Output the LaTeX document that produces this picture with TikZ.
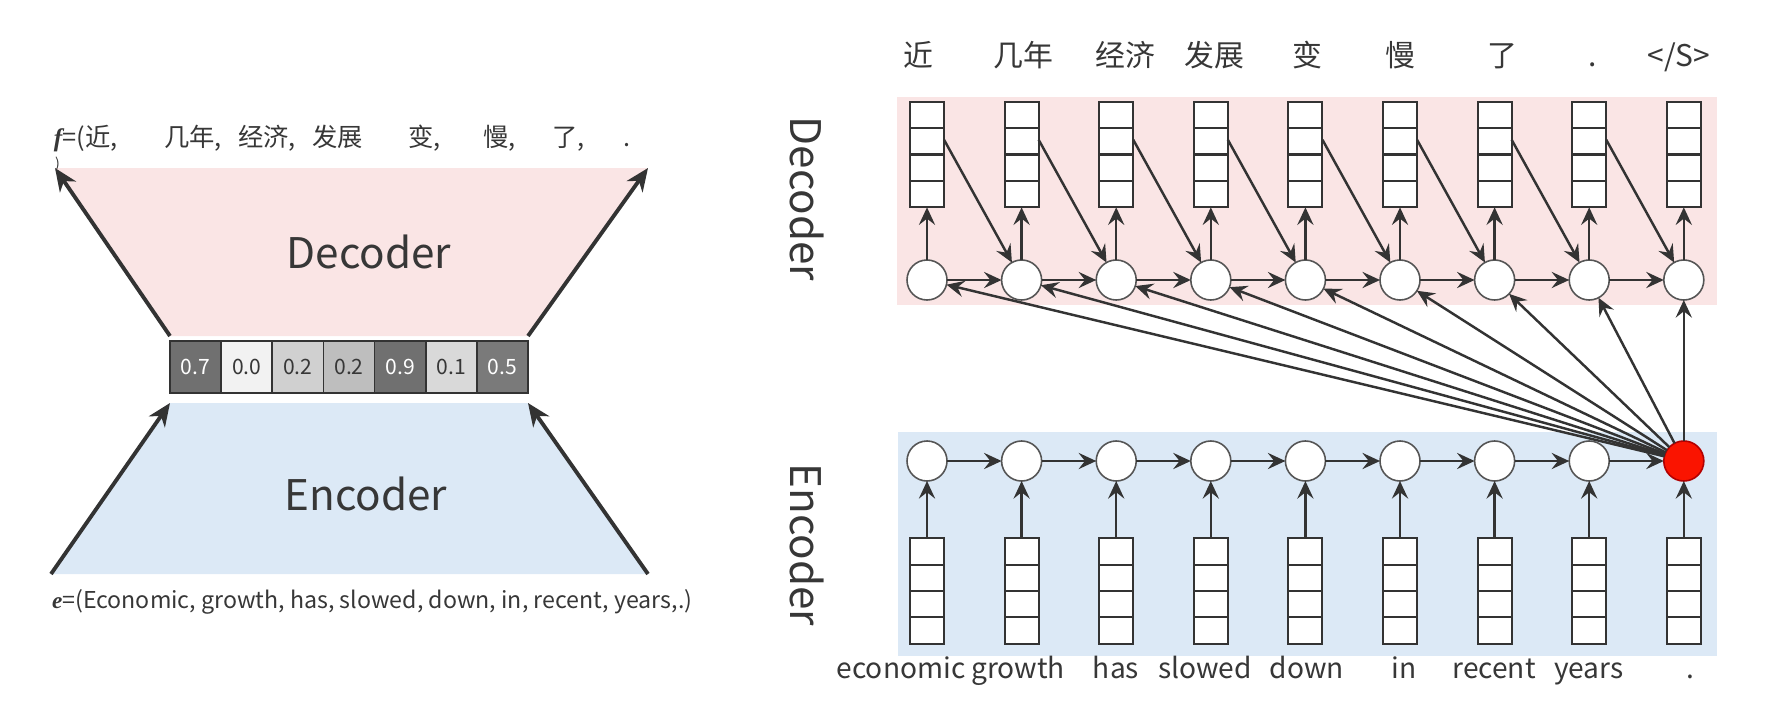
\documentclass[tikz,border=0pt]{standalone}
\usepackage{fontspec}
\setmainfont{Noto Sans CJK SC}
\newfontfamily\vecfont{Liberation Serif}
\usetikzlibrary{arrows.meta, positioning, calc}

\definecolor{decpink}{RGB}{250,229,229}
\definecolor{encblue}{RGB}{220,233,246}
\definecolor{linegray}{RGB}{51,51,51}
\definecolor{rimgray}{RGB}{85,85,85}
\definecolor{hotred}{RGB}{250,20,0}
\definecolor{gdark}{RGB}{112,112,112}
\definecolor{gdarkb}{RGB}{122,122,122}
\definecolor{gpale}{RGB}{242,242,242}
\definecolor{glight}{RGB}{208,208,208}
\definecolor{gmid}{RGB}{190,190,190}
\definecolor{gsoft}{RGB}{217,217,217}
\definecolor{txtgray}{RGB}{55,55,55}

\begin{document}
\begin{tikzpicture}[x=0.01cm, y=-0.01cm,
    every node/.style={inner sep=0pt, outer sep=0pt, text=txtgray},
    arr/.style={-{Stealth[length=5pt, width=4.6pt, inset=1.8pt]}, line width=0.7pt, draw=linegray},
    bigarr/.style={-{Stealth[length=6.5pt, width=5.5pt, inset=2pt]}, line width=1.1pt, draw=linegray},
    state/.style={circle, draw=rimgray, fill=white, line width=0.45pt, minimum size=0.4cm},
    stack/.style={rectangle, draw=linegray, fill=white, line width=0.6pt,
        minimum width=0.34cm, minimum height=1.056cm,
        path picture={
            \foreach \k in {1,2,3}
                \draw[linegray, line width=0.6pt]
                    ($(path picture bounding box.north west)!\k/4!(path picture bounding box.south west)$) --
                    ($(path picture bounding box.north east)!\k/4!(path picture bounding box.south east)$);
        }},
    vcell/.style={rectangle, draw=linegray, line width=0.5pt, minimum width=0.511cm, minimum height=0.52cm,
        font=\fontsize{6}{7}\selectfont},
    word/.style={anchor=base, font=\fontsize{8}{10}\selectfont},
    small/.style={anchor=base west, font=\fontsize{7.2}{8.5}\selectfont},
    title/.style={font=\fontsize{12}{14}\selectfont},
  ]
    \useasboundingbox (0,0) rectangle (1782,721);

    % Left: the two trapezoids
    \coordinate (dtl) at (55,168);
    \coordinate (dtr) at (648,168);
    \coordinate (dbl) at (170,336);
    \coordinate (dbr) at (528,336);
    \coordinate (etl) at (170,403);
    \coordinate (etr) at (528,403);
    \coordinate (ebl) at (51,574);
    \coordinate (ebr) at (648,574);
    \fill[decpink] (dtl) -- (dtr) -- (dbr) -- (dbl) -- cycle;
    \fill[encblue] (etl) -- (etr) -- (ebr) -- (ebl) -- cycle;

    \node[title] (dectitle) at (369,252) {Decoder};
    \node[title] (enctitle) at (366,494) {Encoder};

    % the vector in the middle
    \foreach \v/\c/\t [count=\k] in {0.7/gdark/white, 0.0/gpale/txtgray, 0.2/glight/txtgray,
        0.2/gmid/txtgray, 0.9/gdark/white, 0.1/gsoft/txtgray, 0.5/gdarkb/white}
        \node[vcell, fill=\c, text=\t] (v\k) at (170+51.14*\k-25.57, 367) {\v};

    % arrows along the sides
    \draw[bigarr] (dbl) -- (dtl);
    \draw[bigarr] (dbr) -- (dtr);
    \draw[bigarr] (ebl) -- (etl);
    \draw[bigarr] (ebr) -- (etr);

    % the two sentences
    \node[small] (fvec) at (54,146) {{\vecfont\bfseries\itshape f}=(近,};
    \foreach \w/\x [count=\k] in {{几年,}/164, {经济,}/238, 发展/312, {变,}/408, {慢,}/483, {了,}/552, ./623}
        \node[small] (ftok\k) at (\x,146) {\w};
    \node[small, font=\fontsize{4}{5}\selectfont] (fend) at (55,168) {)};
    \node[small, font=\fontsize{6.6}{8}\selectfont] (evec) at (52,608)
        {{\vecfont\bfseries\itshape e}=(Economic, growth, has, slowed, down, in, recent, years,.)};

    % Right: decoder and encoder panels
    \fill[decpink] (897,97) rectangle (1717,305);
    \fill[encblue] (898,432) rectangle (1717,656);
    \node[title, rotate=-90] (declabel) at (807,199) {Decoder};
    \node[title, rotate=-90] (enclabel) at (807,545) {Encoder};

    \foreach \i in {0,...,8} {
        \node[state] (d\i) at (927+94.6*\i, 280) {};
        \node[stack] (ds\i) at (927+94.6*\i, 154.5) {};
        \node[stack] (es\i) at (927+94.6*\i, 591) {};
    }
    \foreach \i in {0,...,7}
        \node[state] (e\i) at (927+94.6*\i, 461) {};
    \node[state, fill=hotred, draw=red!70!black] (e8) at (927+94.6*8, 461) {};

    % connectors
    \foreach \i in {0,...,8} {
        \draw[arr] (d\i) -- (ds\i);
        \draw[arr] (es\i) -- (e\i);
        \draw[arr] (e8) -- (d\i);
    }
    \foreach \i [evaluate=\i as \j using int(\i+1)] in {0,...,7} {
        \draw[arr] (d\i) -- (d\j);
        \draw[arr] (e\i) -- (e\j);
        \draw[arr] ($(ds\i.north east)!0.36!(ds\i.south east)$) -- (d\j);
    }

    % words
    \foreach \w/\x [count=\k] in {近/918, 几年/1023, 经济/1125, 发展/1214, 变/1307, 慢/1400, 了/1502, ./1593, {</S>}/1679}
        \node[word, font=\fontsize{8.5}{10}\selectfont] (tw\k) at (\x,66) {\w};
    \foreach \w/\x [count=\k] in {economic/901, growth/1018, has/1116, slowed/1205, down/1307, in/1404, recent/1494, years/1589, ./1690}
        \node[word] (bw\k) at (\x,678) {\w};
\end{tikzpicture}
\end{document}
